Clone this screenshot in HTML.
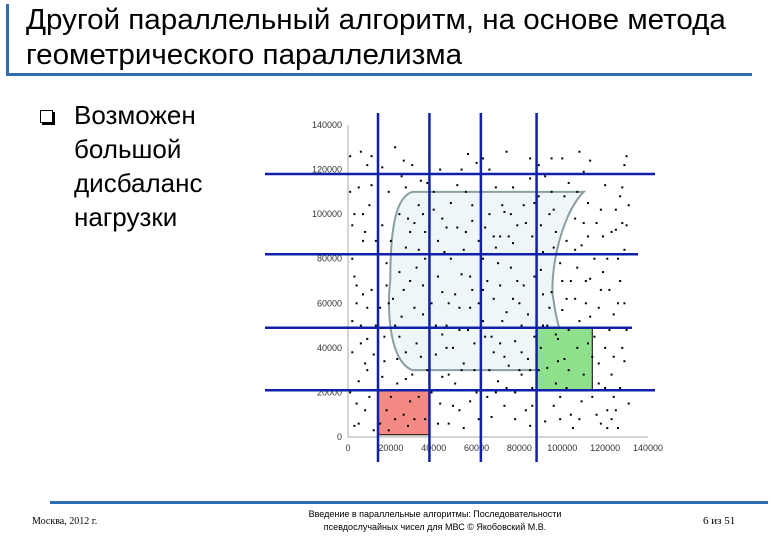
<!DOCTYPE html>
<html><head><meta charset="utf-8"><style>
body{margin:0;width:780px;height:540px;background:#fff;overflow:hidden;font-family:"Liberation Sans",sans-serif;position:relative}
.t{position:absolute;left:26px;top:3px;font-size:29px;line-height:35px;color:#000;letter-spacing:0px;transform:scaleX(1.02);transform-origin:left top}
.b{position:absolute;left:40px;top:98px;font-size:26px;line-height:34px}
.f{position:absolute;font-family:"Liberation Serif",serif;font-size:10px;color:#000}
</style></head><body>
<div style="position:absolute;left:6px;top:4px;width:3px;height:71px;background:#2e6db4"></div>
<div style="position:absolute;left:6px;top:73px;width:746px;height:3px;background:#2e6db4"></div>
<div class="t">Другой параллельный алгоритм, на основе метода<br>геометрического параллелизма</div>
<div class="b"><span style="position:absolute;left:0;top:12px;width:11px;height:11px;border:1px solid #000;box-shadow:2px 2px 0 #000"></span><div style="margin-left:34px">Возможен<br>большой<br>дисбаланс<br>нагрузки</div></div>
<svg id="ch" width="780" height="540" style="position:absolute;left:0;top:0"></svg>
<div style="position:absolute;left:50px;top:501px;width:718px;height:3px;background:#2e6db4"></div>
<div class="f" style="left:32px;top:516px">Москва, 2012 г.</div>
<div class="f" style="left:280px;top:508px;width:310px;text-align:center;font-family:'Liberation Sans',sans-serif;font-size:9px;line-height:13px">Введение в параллельные алгоритмы: Последовательности<br>псевдослучайных чисел для МВС © Якобовский М.В.</div>
<div class="f" style="left:703px;top:515px;font-size:11px">6 из 51</div>
<script>
const xTicks=[0,20000,40000,60000,80000,100000,120000,140000];
const yTicks=[0,20000,40000,60000,80000,100000,120000,140000];
const vLines=[14000,38000,62000,88000];
const hLines=[118000,82000,49000,21000];
const redCell=[14000,38000,1000,21000];
const greenCell=[88000,114000,21000,49000];
const pts=[[3,5],[8,12],[12,3],[5,25],[2,38],[9,44],[4,60],[11,66],[3,72],[7,88],[2,95],[10,104],[5,112],[3,118],[9,122],[6,128],[13,118],[16,95],[19,110],[22,130],[24,100],[18,78],[21,62],[17,45],[23,35],[26,10],[28,5],[30,28],[33,18],[36,8],[32,42],[35,55],[29,70],[27,85],[31,96],[34,115],[38,125],[40,102],[42,88],[44,65],[46,50],[41,37],[43,15],[47,6],[50,24],[52,12],[49,40],[54,33],[57,58],[53,73],[55,92],[51,113],[56,127],[60,123],[62,110],[58,97],[63,80],[61,60],[64,45],[59,30],[65,18],[62,3],[67,9],[70,25],[68,38],[72,52],[71,68],[69,85],[73,101],[70,118],[74,128],[77,112],[79,95],[76,76],[80,60],[78,43],[81,28],[83,12],[85,5],[86,22],[84,35],[88,58],[87,72],[86,90],[89,108],[85,125],[92,117],[94,100],[91,83],[95,65],[93,50],[96,14],[99,8],[101,35],[98,44],[103,30],[100,57],[104,70],[102,88],[106,98],[103,114],[108,128],[110,119],[112,105],[109,86],[113,71],[111,60],[115,45],[117,33],[114,18],[118,6],[121,12],[123,28],[120,40],[124,55],[122,66],[126,80],[125,93],[127,108],[129,122],[130,126],[128,40],[131,15],[126,4],[119,90],[116,118],[107,40],[97,24],[90,40],[82,68],[75,32],[66,100],[48,80],[45,118],[39,60],[37,30],[25,54],[20,18],[15,6],[6,50],[10,82],[14,100],[1,110],[21,118],[27,112],[33,104],[29,92],[24,74],[19,60],[13,50],[8,33],[4,15],[16,27],[22,8],[38,47],[44,27],[52,48],[58,66],[48,105],[53,120],[65,70],[71,42],[78,20],[82,104],[89,122],[95,110],[100,125],[106,84],[111,70],[117,58],[121,80],[125,102],[129,60],[120,22],[110,28],[104,10],[93,31],[87,45],[77,87],[68,62],[61,88],[56,48],[47,28],[42,72],[36,92],[30,122],[11,126],[7,100],[2,80],[12,37],[18,12],[27,38],[32,76],[40,110],[57,16],[63,125],[73,14],[81,50],[90,95],[99,78],[108,52],[114,36],[124,18],[130,95],[127,70],[118,102],[105,118],[96,85],[85,30],[74,56],[66,30],[54,84],[44,98],[31,58],[23,24],[9,58],[5,6],[14,72],[20,88],[26,124],[35,68],[46,40],[50,64],[60,20],[69,112],[76,100],[83,82],[91,64],[97,46],[102,22],[112,90],[116,10],[122,48],[128,112],
[1,20],[6,42],[4,68],[8,92],[1,126],[11,113],[15,58],[17,34],[19,3],[24,45],[26,66],[28,98],[25,117],[31,8],[34,36],[36,80],[39,20],[41,50],[43,120],[45,83],[47,60],[49,14],[51,94],[53,30],[55,110],[57,72],[59,42],[61,8],[63,52],[64,94],[66,120],[67,45],[69,20],[70,78],[72,104],[73,36],[75,90],[77,62],[78,8],[80,118],[81,38],[83,96],[84,55],[86,14],[87,105],[89,30],[90,75],[92,7],[94,58],[95,125],[97,92],[98,34],[100,70],[101,108],[103,48],[105,4],[106,62],[107,110],[109,16],[110,96],[112,42],[113,124],[115,80],[117,24],[118,66],[120,113],[121,4],[123,92],[124,36],[126,60],[127,22],[129,84],[130,48],[131,104],[3,100],[7,64],[10,18],[13,88],[16,121],[22,50],[29,16],[33,84],[37,114],[42,6],[46,94],[52,58],[58,104],[62,36],[68,90],[74,22],[79,70],[85,116],[91,50],[96,102],[102,62],[108,8],[113,54],[119,74],[125,12],[128,96],[2,52],[9,30],[18,68],[27,26],[35,100],[44,46],[54,4],[63,66],[71,90],[80,30],[88,84],[99,18],[107,76],[116,96],[123,8],[129,34]];
const X0=348,X1=648,Y0=437,Y1=125;
const sx=v=>X0+(v/140000)*(X1-X0), sy=v=>Y0-(v/140000)*(Y0-Y1);
const s=document.getElementById('ch'),NS='http://www.w3.org/2000/svg';
function mk(t,a){const e=document.createElementNS(NS,t);for(const k in a)e.setAttribute(k,a[k]);s.appendChild(e);return e;}
let e;
e=mk('line',{x1:X0,y1:Y1,x2:X0,y2:Y0,stroke:'#aaa','stroke-width':1});

e=mk('line',{x1:X0,y1:Y0,x2:X1,y2:Y0,stroke:'#aaa','stroke-width':1});

yTicks.forEach(v=>{e=mk('text',{x:X0-6,y:sy(v)+3,'font-size':9,'text-anchor':'end',fill:'#333','font-family':'Liberation Sans'});e.textContent=v;
});
xTicks.forEach(v=>{e=mk('text',{x:sx(v),y:Y0+14,'font-size':9,'text-anchor':'middle',fill:'#333','font-family':'Liberation Sans'});e.textContent=v;
});
const L=sx(30000),R=sx(110000),T=sy(110000),B=sy(30000);
e=mk('path',{d:`M${L},${T} L${R},${T} C${R-25},${T+25} ${R-35},${(T+B)/2} ${R-30},${(T+B)/2+20} C${R-25},${B-30} ${R-10},${B-5} ${R},${B} L${L},${B} C${L-25},${B-10} ${L-25},${(T+B)/2+20} ${L-22},${(T+B)/2} C${L-22},${T+30} ${L-15},${T+5} ${L},${T} Z`,fill:'#eef6fa',stroke:'#8aa0a0','stroke-width':2});

e=mk('rect',{x:sx(redCell[0]),y:sy(redCell[3]),width:sx(redCell[1])-sx(redCell[0]),height:sy(redCell[2])-sy(redCell[3]),fill:'#f48a84',stroke:'#000','stroke-width':1});

e=mk('rect',{x:sx(greenCell[0]),y:sy(greenCell[3]),width:sx(greenCell[1])-sx(greenCell[0]),height:sy(greenCell[2])-sy(greenCell[3]),fill:'#8ee08a',stroke:'#000','stroke-width':1});

pts.forEach(p=>{e=mk('rect',{x:sx(p[0]*1000)-1,y:sy(p[1]*1000)-1,width:2,height:2,fill:'#000'});
});
vLines.forEach(v=>{e=mk('line',{x1:sx(v),y1:113,x2:sx(v),y2:462,stroke:'#1020a8','stroke-width':2.5});
});
const hEnd=[655,638,632,655];
hLines.forEach((v,i)=>{e=mk('line',{x1:265,y1:sy(v),x2:hEnd[i],y2:sy(v),stroke:'#1020a8','stroke-width':2.5});
});
</script>
</body></html>
